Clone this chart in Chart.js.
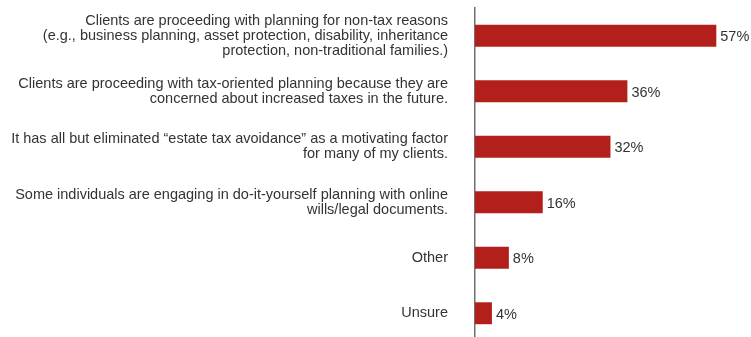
<!DOCTYPE html>
<html>
<head>
<meta charset="utf-8">
<script src="https://cdn.jsdelivr.net/npm/chart.js@4/dist/chart.umd.min.js"></script>
<style>
  html, body { margin: 0; padding: 0; background: #fff; overflow: hidden; }
  #wrap { position: relative; width: 751px; height: 341px; }
</style>
</head>
<body>
<div id="wrap"><canvas id="c"></canvas></div>
<script>
// Survey responses: effect of the estate tax exemption on planning
const categories = [
  ["Clients are proceeding with planning for non-tax reasons",
   "(e.g., business planning, asset protection, disability, inheritance",
   "protection, non-traditional families.)"],
  ["Clients are proceeding with tax-oriented planning because they are",
   "concerned about increased taxes in the future."],
  ["It has all but eliminated \u201Cestate tax avoidance\u201D as a motivating factor",
   "for many of my clients."],
  ["Some individuals are engaging in do-it-yourself planning with online",
   "wills/legal documents."],
  "Other",
  "Unsure"
];
const percentages = [57, 36, 32, 16, 8, 4];

const FONT = "'Liberation Sans', Arial, Helvetica, sans-serif";
const BAR_COLOR = '#b3201b';
const TEXT_COLOR = '#333333';

// Writes "NN%" just past the end of each bar
const valueLabels = {
  id: 'valueLabels',
  afterDatasetsDraw(chart) {
    const ctx = chart.ctx;
    const meta = chart.getDatasetMeta(0);
    ctx.save();
    ctx.font = '14.5px ' + FONT;
    ctx.fillStyle = TEXT_COLOR;
    ctx.textAlign = 'left';
    ctx.textBaseline = 'middle';
    meta.data.forEach((bar, i) => {
      ctx.fillText(percentages[i] + '%', bar.x + 4, bar.y + 1.5);
    });
    ctx.restore();
  }
};

new Chart(document.getElementById('c'), {
  type: 'bar',
  data: {
    labels: categories,
    datasets: [{
      data: percentages,
      backgroundColor: BAR_COLOR,
      borderWidth: 0,
      barPercentage: 0.79,
      categoryPercentage: 0.5
    }]
  },
  options: {
    indexAxis: 'y',
    responsive: true,
    maintainAspectRatio: false,
    animation: false,
    layout: { padding: { top: 8, right: 22, bottom: 0, left: 0 } },
    plugins: {
      legend: { display: false },
      tooltip: { enabled: false }
    },
    scales: {
      x: {
        display: false,
        min: 0,
        max: 60
      },
      y: {
        grid: { display: false, drawTicks: false },
        border: { display: true, color: '#707070', width: 1.5 },
        afterFit(scale) {
          scale.width = 475;
          scale.paddingTop = 0;
          scale.paddingBottom = 0;
        },
        ticks: {
          padding: 27,
          color: TEXT_COLOR,
          font: { family: FONT, size: 14.5, lineHeight: 1.035 }
        }
      }
    }
  },
  plugins: [valueLabels]
});
</script>
</body>
</html>
